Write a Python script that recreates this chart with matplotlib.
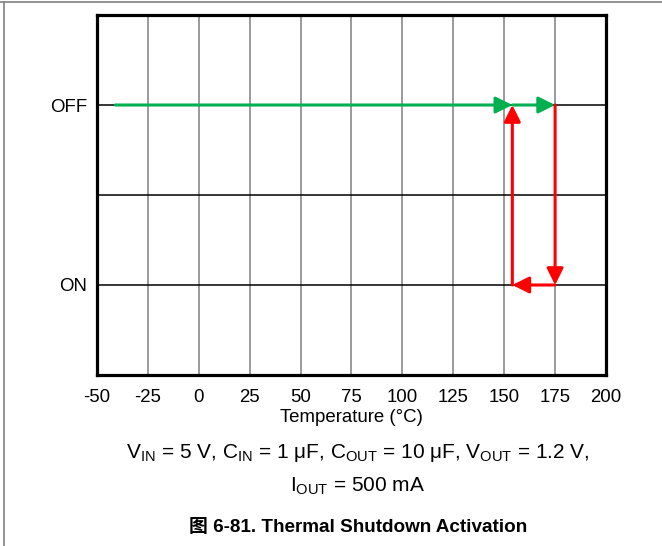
import matplotlib.pyplot as plt
from matplotlib.lines import Line2D

plt.rcParams['font.family'] = ['Liberation Sans', 'Noto Sans CJK SC', 'DejaVu Sans']
plt.rcParams['mathtext.fontset'] = 'custom'
plt.rcParams['mathtext.rm'] = 'Liberation Sans'
plt.rcParams['mathtext.it'] = 'Liberation Sans:italic'
plt.rcParams['mathtext.bf'] = 'Liberation Sans:bold'

# Data
x_ticks = [-50, -25, 0, 25, 50, 75, 100, 125, 150, 175, 200]
y_ticks = [1, 3]
y_labels = ['ON', 'OFF']
OFF, ON = 3, 1
# heating path (green): temperature rises while output is on
green_x = [-41, 154, 175]
green_y = [OFF, OFF, OFF]
# shutdown / recovery path (red)
red_x = [175, 175, 154, 154]
red_y = [OFF, ON, ON, OFF]

fig = plt.figure(figsize=(6.62, 5.46), dpi=100)
ax = fig.add_axes([0.1465, 0.3132, 0.7689, 0.6593])
ax.set_xlim(-50, 200)
ax.set_ylim(0, 4)

for xv in x_ticks[1:-1]:
    ax.axvline(xv, color='#7f7f7f', lw=1.1, zorder=1)
for yv in [1, 2, 3]:
    ax.axhline(yv, color='black', lw=1.1, zorder=1)

arrow_style = '-|>,head_length=0.5,head_width=0.25'

def draw_path(xs, ys, color):
    for i in range(len(xs) - 1):
        ax.annotate('', xy=(xs[i + 1], ys[i + 1]), xytext=(xs[i], ys[i]),
                    arrowprops=dict(arrowstyle=arrow_style, color=color, lw=2.2,
                                    mutation_scale=20, shrinkA=0, shrinkB=0),
                    zorder=3)

draw_path(red_x, red_y, '#ff0000')
draw_path(green_x, green_y, '#00b050')

ax.set_xticks(x_ticks)
ax.set_xticklabels([str(v) for v in x_ticks])
ax.set_yticks(y_ticks)
ax.set_yticklabels(y_labels)
ax.tick_params(axis='both', length=0, labelsize=13.4)
ax.tick_params(axis='x', pad=10)
ax.tick_params(axis='y', pad=7)
for sp in ax.spines.values():
    sp.set_linewidth(2.3)
    sp.set_zorder(4)

ax.set_xlabel('Temperature (°C)', fontsize=13.4, labelpad=2)

cx = 358 / 662
fig.text(cx, 1 - 453 / 546,
         r'V$_{\mathrm{IN}}$ = 5 V, C$_{\mathrm{IN}}$ = 1 μF, C$_{\mathrm{OUT}}$ = 10 μF, V$_{\mathrm{OUT}}$ = 1.2 V,',
         ha='center', va='center', fontsize=15)
fig.text(cx, 1 - 486 / 546, r'I$_{\mathrm{OUT}}$ = 500 mA',
         ha='center', va='center', fontsize=15)
fig.text(cx, 1 - 527 / 546, '图 6-81. Thermal Shutdown Activation',
         ha='center', va='center', fontsize=13.6, fontweight='bold')

# page frame lines
fig.add_artist(Line2D([0, 1], [1 - 2 / 546, 1 - 2 / 546], transform=fig.transFigure,
                      color='#808080', lw=1.2))
fig.add_artist(Line2D([4 / 662, 4 / 662], [0, 1 - 2 / 546], transform=fig.transFigure,
                      color='#808080', lw=1.2))

fig.savefig('out.png', dpi=100)
